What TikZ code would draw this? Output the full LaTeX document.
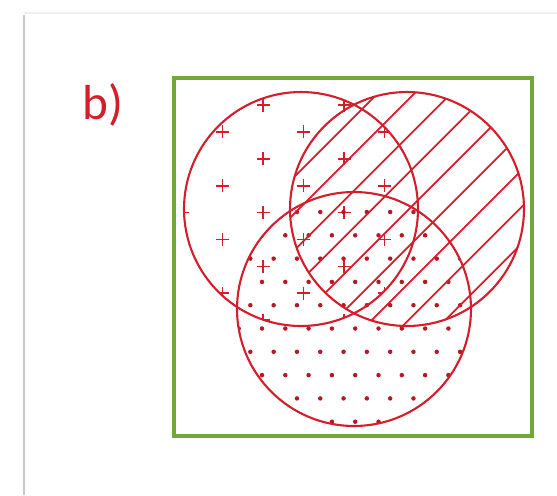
\documentclass[tikz,border=0pt]{standalone}
\usepackage{fontspec}
\newfontfamily\labelfont{Carlito}
\usepackage{xcolor}
\definecolor{vennred}{RGB}{212,30,44}
\definecolor{boxgreen}{RGB}{112,168,60}

\begin{document}
\begin{tikzpicture}[
    x=0.02cm, y=-0.02cm,
    venn/.style={draw=vennred, line width=1.2pt},
    plus/.style={draw=vennred, line width=1pt},
    hatch/.style={draw=vennred, line width=1pt},
    dot/.style={fill=vennred!85!black},
    frame/.style={draw=boxgreen, line width=2.3pt}
]
\useasboundingbox (0,0) rectangle (557,495);

% card edge
\draw[gray!45, line width=1pt] (24,15) -- (24,495);
\draw[gray!12, line width=0.8pt] (24,13) -- (557,13);

% label
\node[anchor=base west, inner sep=0pt, text=vennred, font=\labelfont\fontsize{28}{32}\selectfont] (lbl) at (82,119) {b)};

% universe
\draw[frame] (174,78) rectangle (532,436);

% set centres
\coordinate (A) at (301,209);
\coordinate (B) at (407,209);
\coordinate (C) at (354,309);
\def\rr{2.34cm}

% pluses in A
\begin{scope}
\clip (A) circle[radius=\rr];
\foreach \j in {-1,...,8} {
  \pgfmathsetmacro{\py}{105+26.9*\j}
  \pgfmathsetmacro{\px}{182+40.5*mod(\j+2,2)}
  \foreach \k in {0,...,3}
    \draw[plus] ({\px+81*\k-6.5},\py) -- ++(13,0) ({\px+81*\k},\py-6.5) -- ++(0,13);
}
\end{scope}

% dots in C
\begin{scope}
\clip (C) circle[radius=\rr];
\foreach \j in {0,...,9} {
  \pgfmathsetmacro{\dy}{212+23.3*\j}
  \pgfmathsetmacro{\dx}{215.4+11.65*mod(\j+1,2)}
  \foreach \m in {0,...,11}
    \fill[dot] ({\dx+23.3*\m},\dy) circle[radius=0.045cm];
}
\end{scope}

% hatching in B
\begin{scope}
\clip (B) circle[radius=\rr];
\foreach \n in {0,...,8}
  \draw[hatch] ({471+36.8*\n-80},80) -- ({471+36.8*\n-340},340);
\end{scope}

% circles
\draw[venn] (A) circle[radius=\rr];
\draw[venn] (B) circle[radius=\rr];
\draw[venn] (C) circle[radius=\rr];

\end{tikzpicture}
\end{document}
